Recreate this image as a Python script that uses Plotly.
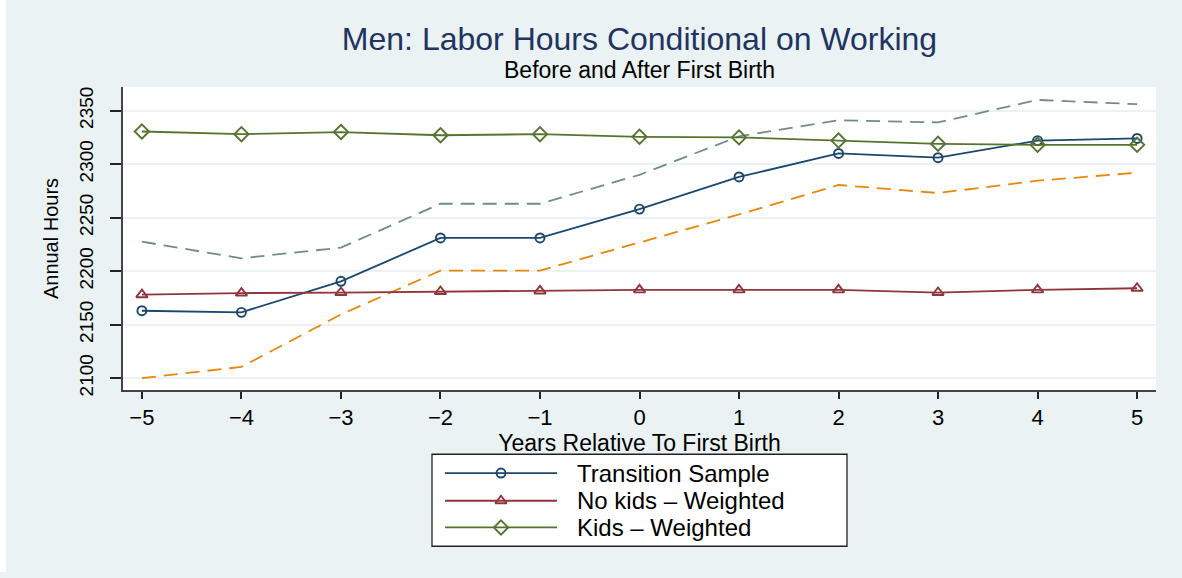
import plotly.graph_objects as go

# ---------------- data ----------------
years = [-5, -4, -3, -2, -1, 0, 1, 2, 3, 4, 5]
transition = [2163, 2161.5, 2190.5, 2231, 2231, 2258, 2288, 2310, 2306, 2322, 2324]
nokids = [2178, 2179.5, 2180, 2181, 2181.5, 2182.5, 2182.5, 2182.5, 2180, 2182.5, 2184]
kids = [2330.5, 2328, 2330, 2327, 2328, 2325.5, 2325, 2322, 2319, 2318, 2318]
ci_upper = [2227.5, 2212, 2222, 2263, 2263, 2290, 2326, 2341, 2339, 2360, 2356]
ci_lower = [2100, 2110.5, 2159.5, 2200.5, 2200.5, 2227, 2253, 2280.5, 2273, 2284.5, 2292]
y_ticks = [2100, 2150, 2200, 2250, 2300, 2350]
x_ticks = years
x_tick_text = ["\u22125", "\u22124", "\u22123", "\u22122", "\u22121", "0", "1", "2", "3", "4", "5"]
series_names = ["Transition Sample", "No kids \u2013 Weighted", "Kids \u2013 Weighted"]
title_text = "Men: Labor Hours Conditional on Working"
subtitle_text = "Before and After First Birth"
x_title = "Years Relative To First Birth"
y_title = "Annual Hours"

# ---------------- styles ----------------
W, H = 1182, 578
FONT = "Liberation Sans, Arial, Helvetica, sans-serif"
BG = "#eaf2f3"
NAVY = "#1a476f"
MAROON = "#90353b"
GREEN = "#55752f"
ORANGE = "#e8870a"
TEAL = "#6e8e84"
LW = 1.8

# plot-area pixel box
PL, PR, PT, PB = 123, 1156, 88, 394


def px_x(p):
    return p / W


def px_y(p):
    return 1 - p / H


fig = go.Figure()

# confidence bands (dashed)
fig.add_trace(go.Scatter(x=years, y=ci_upper, mode="lines",
                         line=dict(color=TEAL, width=LW, dash="14px,8px"),
                         showlegend=False, hoverinfo="skip"))
fig.add_trace(go.Scatter(x=years, y=ci_lower, mode="lines",
                         line=dict(color=ORANGE, width=LW, dash="14px,8px"),
                         showlegend=False, hoverinfo="skip"))

series = [
    (transition, NAVY, "circle-open", 9),
    (nokids, MAROON, "triangle-up-open", 10),
    (kids, GREEN, "diamond-open", 11),
]
for (vals, col, sym, size), name in zip(series, series_names):
    fig.add_trace(go.Scatter(x=years, y=vals, mode="lines+markers", name=name,
                             line=dict(color=col, width=LW),
                             marker=dict(symbol=sym, size=size, color=col,
                                         line=dict(color=col, width=1.9)),
                             showlegend=False))

# ---------------- manual legend (on helper axes) ----------------
LX0, LX1, LY0, LY1 = 432, 847, 459, 552
row_px = [478, 506, 533]
samp_x0, samp_x1 = 445, 557
for i, ((vals, col, sym, size), name) in enumerate(zip(series, series_names)):
    ry = (LY1 - row_px[i]) / (LY1 - LY0)
    fig.add_trace(go.Scatter(x=[0, 1], y=[ry, ry], mode="lines",
                             line=dict(color=col, width=LW),
                             xaxis="x2", yaxis="y2", showlegend=False, hoverinfo="skip"))
    fig.add_trace(go.Scatter(x=[0.5], y=[ry], mode="markers",
                             marker=dict(symbol=sym, size=size, color=col,
                                         line=dict(color=col, width=1.9)),
                             xaxis="x2", yaxis="y2", showlegend=False, hoverinfo="skip"))
    fig.add_annotation(x=px_x(575), y=px_y(row_px[i]), xref="paper", yref="paper",
                       text=name, showarrow=False, xanchor="left", yanchor="middle",
                       font=dict(family=FONT, size=24, color="black"))

shapes = [
    # white strip at left edge
    dict(type="rect", xref="paper", yref="paper", x0=0, x1=px_x(6), y0=0, y1=1,
         fillcolor="white", line=dict(width=0), layer="below"),
    # legend box
    dict(type="rect", xref="paper", yref="paper", x0=px_x(LX0), x1=px_x(LX1),
         y0=px_y(LY1), y1=px_y(LY0), fillcolor="white",
         line=dict(color="#222222", width=1.3), layer="below"),
]

fig.update_layout(
    width=W, height=H,
    margin=dict(l=0, r=0, t=0, b=0),
    paper_bgcolor=BG,
    plot_bgcolor="white",
    font=dict(family=FONT, color="black"),
    showlegend=False,
    title=dict(text=title_text, x=(PL + PR) / 2 / W, xanchor="center",
               y=px_y(39), yanchor="middle", yref="paper",
               font=dict(family=FONT, size=32, color="#1f3461")),
    xaxis=dict(domain=[px_x(PL), px_x(PR)], range=[-5.19, 5.19],
               tickmode="array", tickvals=x_ticks, ticktext=x_tick_text,
               ticks="outside", ticklen=7, tickwidth=1.5, tickcolor="#222",
               showline=True, linecolor="#444", linewidth=2,
               showgrid=False, zeroline=False,
               tickfont=dict(family=FONT, size=22, color="black"),
               title=dict(text=x_title, standoff=0,
                          font=dict(family=FONT, size=23, color="black")),
               fixedrange=True),
    yaxis=dict(domain=[px_y(PB), px_y(PT)], range=[2089, 2372],
               tickmode="array", tickvals=y_ticks,
               ticks="outside", ticklen=11, tickwidth=1.5, tickcolor="#222",
               tickangle=-90, ticklabelstandoff=9,
               showline=True, linecolor="#444", linewidth=2,
               showgrid=True, gridcolor=BG, gridwidth=2, zeroline=False,
               tickfont=dict(family=FONT, size=19, color="black"),
               title=dict(text=y_title, standoff=12,
                          font=dict(family=FONT, size=20, color="black")),
               fixedrange=True),
    xaxis2=dict(domain=[px_x(samp_x0), px_x(samp_x1)], range=[0, 1], anchor="y2",
                visible=False, fixedrange=True),
    yaxis2=dict(domain=[px_y(LY1), px_y(LY0)], range=[0, 1], anchor="x2",
                visible=False, fixedrange=True),
    shapes=shapes,
)

fig.add_annotation(x=(PL + PR) / 2 / W, y=px_y(71), xref="paper", yref="paper",
                   text=subtitle_text, showarrow=False, xanchor="center", yanchor="middle",
                   font=dict(family=FONT, size=23, color="black"))

post = (
    "var de=document.documentElement, b=document.body;"
    "de.style.margin='0'; de.style.padding='0'; de.style.overflow='hidden';"
    "b.style.margin='0'; b.style.padding='0'; b.style.overflow='hidden';"
)
fig.write_html("out.html", config={"displayModeBar": False}, post_script=post)
